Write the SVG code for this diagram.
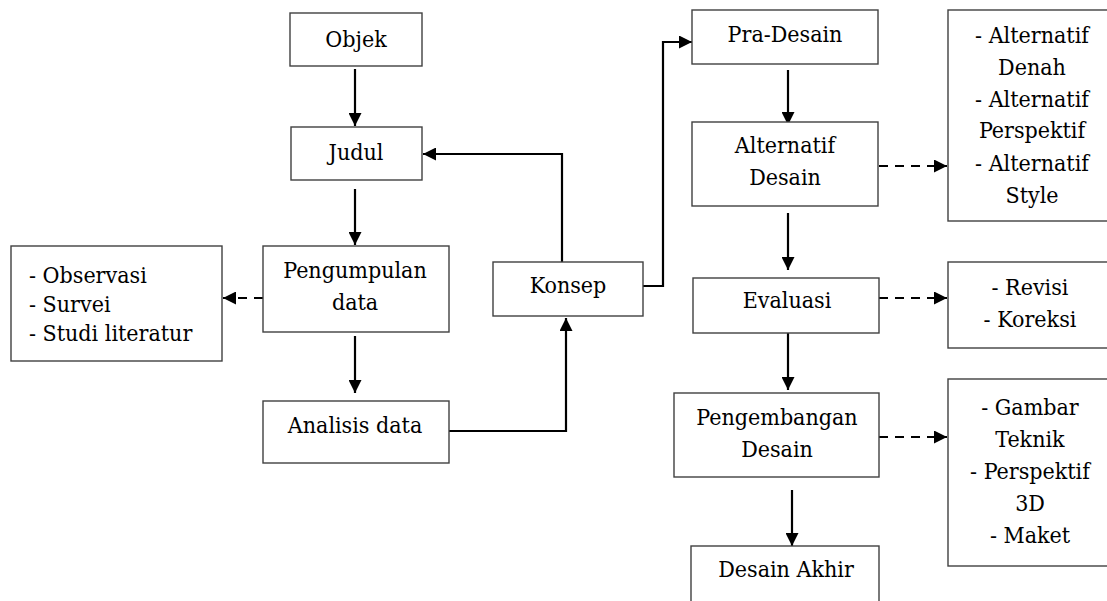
<svg xmlns="http://www.w3.org/2000/svg" width="1107" height="601" viewBox="0 0 1107 601">
  <style>
    .box { fill: #ffffff; stroke: #404040; stroke-width: 1.4; }
    .lbl { font-family: "DejaVu Serif Condensed", "DejaVu Serif", serif; font-stretch: condensed; font-size: 23px; fill: #000000; text-anchor: middle; }
    .lft { text-anchor: start; }
    .ln { fill: none; stroke: #000000; stroke-width: 2.2; }
    .dash { stroke-dasharray: 9 7; }
  </style>
  <defs>
    <marker id="arrow" viewBox="0 0 13 13" refX="13" refY="6.5" markerWidth="13" markerHeight="13" markerUnits="userSpaceOnUse" orient="auto">
      <path d="M0,0 L13,6.5 L0,13 Z" fill="#000000"/>
    </marker>
  </defs>
  <rect width="1107" height="601" fill="#ffffff"/>

  <!-- connectors -->
  <g id="connectors">
    <line class="ln" x1="355" y1="69" x2="355" y2="126" marker-end="url(#arrow)"/>
    <line class="ln" x1="355" y1="189" x2="355" y2="245" marker-end="url(#arrow)"/>
    <line class="ln dash" x1="263" y1="298" x2="223" y2="298" marker-end="url(#arrow)"/>
    <line class="ln" x1="355" y1="336" x2="355" y2="393" marker-end="url(#arrow)"/>
    <polyline class="ln" points="449,431 566,431 566,318" marker-end="url(#arrow)"/>
    <polyline class="ln" points="562,262 562,154 423,154" marker-end="url(#arrow)"/>
    <polyline class="ln" points="643,286 663,286 663,42 692,42" marker-end="url(#arrow)"/>
    <line class="ln" x1="788" y1="70" x2="788" y2="125" marker-end="url(#arrow)"/>
    <line class="ln" x1="788" y1="213" x2="788" y2="270" marker-end="url(#arrow)"/>
    <line class="ln" x1="788" y1="333" x2="788" y2="390" marker-end="url(#arrow)"/>
    <line class="ln" x1="792" y1="490" x2="792" y2="546" marker-end="url(#arrow)"/>
    <line class="ln dash" x1="879" y1="166" x2="947" y2="166" marker-end="url(#arrow)"/>
    <line class="ln dash" x1="879" y1="298" x2="947" y2="298" marker-end="url(#arrow)"/>
    <line class="ln dash" x1="879" y1="437" x2="947" y2="437" marker-end="url(#arrow)"/>
  </g>

  <g id="objek">
    <rect class="box" x="290" y="13" width="132" height="53"/>
    <text class="lbl" x="356" y="47">Objek</text>
  </g>
  <g id="judul">
    <rect class="box" x="291" y="127" width="131" height="53"/>
    <text class="lbl" x="356" y="160">Judul</text>
  </g>
  <g id="pengumpulan-data">
    <rect class="box" x="263" y="246" width="186" height="86"/>
    <text class="lbl" x="355" y="278">Pengumpulan</text>
    <text class="lbl" x="355" y="310">data</text>
  </g>
  <g id="metode-data">
    <rect class="box" x="11" y="246" width="211" height="115"/>
    <text class="lbl lft" x="29" y="283">- Observasi</text>
    <text class="lbl lft" x="29" y="312">- Survei</text>
    <text class="lbl lft" x="29" y="341">- Studi literatur</text>
  </g>
  <g id="analisis-data">
    <rect class="box" x="263" y="401" width="186" height="62"/>
    <text class="lbl" x="355" y="433">Analisis data</text>
  </g>
  <g id="konsep">
    <rect class="box" x="493" y="262" width="150" height="54"/>
    <text class="lbl" x="568" y="293">Konsep</text>
  </g>
  <g id="pra-desain">
    <rect class="box" x="692" y="10" width="186" height="54"/>
    <text class="lbl" x="785" y="42">Pra-Desain</text>
  </g>
  <g id="alternatif-desain">
    <rect class="box" x="692" y="122" width="186" height="84"/>
    <text class="lbl" x="785" y="153">Alternatif</text>
    <text class="lbl" x="785" y="185">Desain</text>
  </g>
  <g id="evaluasi">
    <rect class="box" x="693" y="278" width="186" height="55"/>
    <text class="lbl" x="787" y="308">Evaluasi</text>
  </g>
  <g id="pengembangan-desain">
    <rect class="box" x="674" y="393" width="205" height="84"/>
    <text class="lbl" x="777" y="425">Pengembangan</text>
    <text class="lbl" x="777" y="457">Desain</text>
  </g>
  <g id="desain-akhir">
    <rect class="box" x="691" y="546" width="188" height="70"/>
    <text class="lbl" x="786" y="577">Desain Akhir</text>
  </g>
  <g id="alternatif-list">
    <rect class="box" x="948" y="10" width="170" height="211"/>
    <text class="lbl" x="1032" y="43">- Alternatif</text>
    <text class="lbl" x="1032" y="75">Denah</text>
    <text class="lbl" x="1032" y="107">- Alternatif</text>
    <text class="lbl" x="1032" y="138">Perspektif</text>
    <text class="lbl" x="1032" y="171">- Alternatif</text>
    <text class="lbl" x="1032" y="203">Style</text>
  </g>
  <g id="revisi-list">
    <rect class="box" x="948" y="262" width="170" height="86"/>
    <text class="lbl" x="1030" y="295">- Revisi</text>
    <text class="lbl" x="1030" y="327">- Koreksi</text>
  </g>
  <g id="gambar-list">
    <rect class="box" x="948" y="379" width="170" height="187"/>
    <text class="lbl" x="1030" y="415">- Gambar</text>
    <text class="lbl" x="1030" y="447">Teknik</text>
    <text class="lbl" x="1030" y="479">- Perspektif</text>
    <text class="lbl" x="1030" y="511">3D</text>
    <text class="lbl" x="1030" y="543">- Maket</text>
  </g>
</svg>
